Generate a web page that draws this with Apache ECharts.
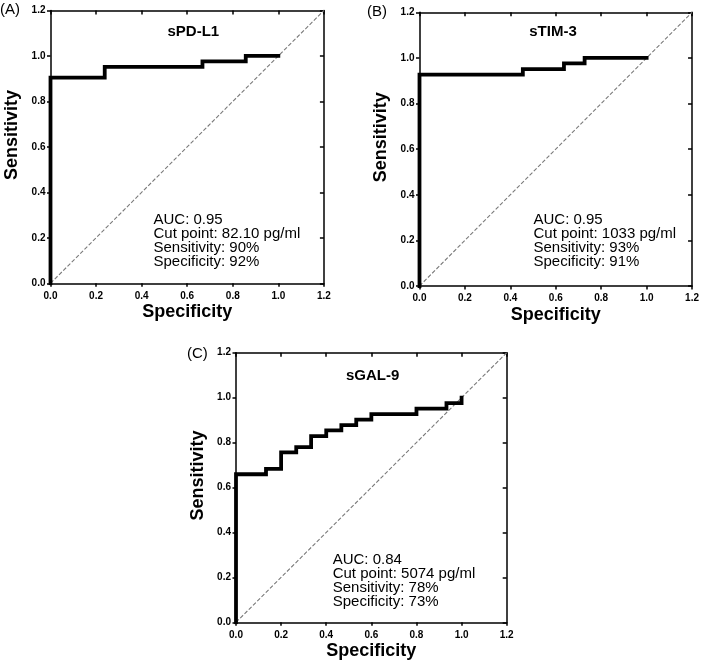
<!DOCTYPE html>
<html>
<head>
<meta charset="utf-8">
<script src="https://cdn.jsdelivr.net/npm/echarts@6/dist/echarts.min.js"></script>
<style>html,body{margin:0;padding:0;background:#fff}#c{width:702px;height:671px}</style>
</head>
<body>
<div id="c"></div>
<script>
// ROC step vertices (x = 1 - specificity axis labelled "Specificity", y = sensitivity)
const fprA = [0, 0, 0.238, 0.667, 0.857, 1.0];
const sensA = [0, 0.905, 0.952, 0.976, 1.0, 1.0];
const fprB = [0, 0, 0.455, 0.636, 0.727, 1.0];
const sensB = [0, 0.927, 0.951, 0.976, 1.0, 1.0];
const fprC = [0, 0, 0.133, 0.2, 0.267, 0.333, 0.4, 0.467, 0.533, 0.6, 0.8, 0.933, 1.0];
const sensC = [0, 0.659, 0.683, 0.756, 0.780, 0.829, 0.854, 0.878, 0.902, 0.927, 0.951, 0.976, 1.0];
const refLine = [0, 1.2];
const panelLabels = ['(A)', '(B)', '(C)'];
const markers = ['sPD-L1', 'sTIM-3', 'sGAL-9'];
const aucText = [
  ['AUC: 0.95', 'Cut point: 82.10 pg/ml', 'Sensitivity: 90%', 'Specificity: 92%'],
  ['AUC: 0.95', 'Cut point: 1033 pg/ml', 'Sensitivity: 93%', 'Specificity: 91%'],
  ['AUC: 0.84', 'Cut point: 5074 pg/ml', 'Sensitivity: 78%', 'Specificity: 73%']
];
const xName = 'Specificity';
const yName = 'Sensitivity';

const FONT = 'Liberation Sans, Arial, Helvetica, sans-serif';
const grids = [
  {left: 50.5, top: 10.5, width: 273.4, height: 272.8},
  {left: 419.5, top: 12.3, width: 274, height: 273.7},
  {left: 236, top: 352.7, width: 270.7, height: 269.6}
];
const curves = [[fprA, sensA], [fprB, sensB], [fprC, sensC]];

const xAxes = [], yAxes = [], series = [], graphics = [];
const axisBase = {min: 0, max: 1.2, interval: 0.2, splitLine: {show: false},
  axisLine: {show: true, onZero: false, lineStyle: {color: '#000', width: 1.5}}};
grids.forEach((g, i) => {
  xAxes.push(Object.assign({}, axisBase, {type: 'value', gridIndex: i, position: 'bottom',
    name: xName, nameLocation: 'middle', nameGap: 20,
    nameTextStyle: {fontFamily: FONT, fontWeight: 'bold', fontSize: 18, color: '#000'},
    axisTick: {show: true, inside: false, length: 3.5, lineStyle: {color: '#000', width: 1.5}},
    axisLabel: {margin: 7.5, fontFamily: FONT, fontWeight: 'bold', fontSize: 10, color: '#000',
      formatter: v => v.toFixed(1)}}));
  xAxes.push(Object.assign({}, axisBase, {type: 'value', gridIndex: i, position: 'top',
    axisTick: {show: true, inside: true, length: 4, lineStyle: {color: '#000', width: 1.5}},
    axisLabel: {show: false}}));
  yAxes.push(Object.assign({}, axisBase, {type: 'value', gridIndex: i, position: 'left',
    name: yName, nameLocation: 'middle', nameGap: 29,
    nameTextStyle: {fontFamily: FONT, fontWeight: 'bold', fontSize: 18, color: '#000', padding: [0, 0, 0, 24]},
    axisTick: {show: true, inside: false, length: 3.5, lineStyle: {color: '#000', width: 1.5}},
    axisLabel: {margin: 5, fontFamily: FONT, fontWeight: 'bold', fontSize: 10, color: '#000',
      formatter: v => v.toFixed(1)}}));
  yAxes.push(Object.assign({}, axisBase, {type: 'value', gridIndex: i, position: 'right',
    axisTick: {show: true, inside: true, length: 4, lineStyle: {color: '#000', width: 1.5}},
    axisLabel: {show: false}}));
  series.push({type: 'line', xAxisIndex: 2 * i, yAxisIndex: 2 * i, symbol: 'none', silent: true,
    data: [[refLine[0], refLine[0]], [refLine[1], refLine[1]]],
    lineStyle: {color: '#7a7a7a', width: 1.1, type: [4, 2]}, z: 2});
  const [xs, ys] = curves[i];
  series.push({type: 'line', xAxisIndex: 2 * i, yAxisIndex: 2 * i, symbol: 'none', step: 'end', silent: true,
    data: xs.map((x, k) => [x, ys[k]]),
    lineStyle: {color: '#000', width: 3.8, join: 'miter', cap: 'square'}, z: 3});
});

const labelPos = [[0, 2], [367, 4], [187, 346]];
const titlePos = [[193.3, 31.7], [553, 32], [372.7, 375.7]];
const annPos = [[153.5, 212.5], [533.5, 212.5], [332.7, 552.5]];
for (let i = 0; i < 3; i++) {
  graphics.push({type: 'text', x: labelPos[i][0], y: labelPos[i][1],
    style: {text: panelLabels[i], font: '15px ' + FONT, fill: '#000', align: 'left', verticalAlign: 'top'}});
  graphics.push({type: 'text', x: titlePos[i][0], y: titlePos[i][1],
    style: {text: markers[i], font: 'bold 15px ' + FONT, fill: '#000', align: 'center', verticalAlign: 'middle'}});
  graphics.push({type: 'text', x: annPos[i][0], y: annPos[i][1],
    style: {text: aucText[i].join('\n'), font: '15px ' + FONT, lineHeight: 14, fill: '#000', align: 'left', verticalAlign: 'top'}});
}

const chart = echarts.init(document.getElementById('c'), null, {renderer: 'canvas'});
chart.setOption({
  animation: false,
  backgroundColor: '#fff',
  grid: grids.map(g => Object.assign({containLabel: false}, g)),
  xAxis: xAxes,
  yAxis: yAxes,
  series: series,
  graphic: graphics
});
</script>
</body>
</html>
